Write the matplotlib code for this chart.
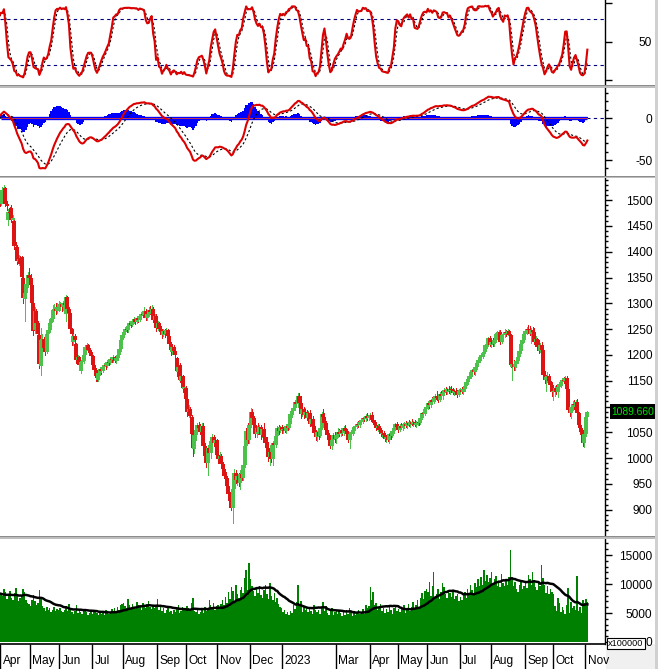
import numpy as np
import pandas as pd
import matplotlib
matplotlib.use("Agg")
import matplotlib.pyplot as plt
from matplotlib.patches import Rectangle
from matplotlib.ticker import FixedLocator, NullFormatter
from matplotlib.transforms import blended_transform_factory

# =============================================================================
# * Data: VN-Index daily sessions, Feb 2022 - Nov 2023
#   (first WARMUP sessions are only used to warm up the indicators)
# =============================================================================

WARMUP = 40

opens = [
    # Feb 2022 (warm-up)
    1495, 1500, 1505, 1500, 1505, 1500, 1480, 1490, 1502, 1505, 1505, 1505, 1495, 1500, 1490, 1477, 1490,
    # Mar 2022 (warm-up)
    1493, 1495, 1500, 1505, 1487, 1470, 1445, 1450, 1468, 1474, 1452, 1460, 1462, 1475, 1482, 1497, 1500, 1485, 1500, 1498, 1489, 1495, 1502,
    # Apr 2022
    1492, 1515, 1520, 1524, 1492, 1462, 1478, 1485, 1461, 1460, 1410, 1410, 1380, 1388, 1390, 1350, 1308, 1320, 1338, 1355,
    # May
    1350, 1336, 1300, 1248, 1286, 1262, 1238, 1178, 1228, 1230, 1214, 1206, 1240, 1248, 1262, 1270, 1288, 1290, 1286, 1292,
    # Jun
    1294, 1298, 1292, 1300, 1280, 1312, 1290, 1282, 1250, 1226, 1236, 1222, 1190, 1196, 1168, 1186, 1188, 1200, 1216, 1220, 1210, 1206,
    # Jul
    1197, 1180, 1170, 1160, 1152, 1165, 1172, 1168, 1176, 1180, 1178, 1186, 1184, 1192, 1190, 1196, 1188, 1194, 1200, 1212, 1228,
    # Aug
    1238, 1244, 1250, 1248, 1256, 1262, 1258, 1266, 1270, 1264, 1272, 1268, 1276, 1280, 1278, 1286, 1272, 1280, 1288, 1284, 1290, 1268, 1276,
    # Sep
    1252, 1262, 1250, 1244, 1238, 1246, 1240, 1248, 1236, 1222, 1206, 1216, 1208, 1194, 1166, 1180, 1150, 1160, 1134, 1136,
    # Oct
    1114, 1090, 1096, 1080, 1046, 1018, 1044, 1054, 1064, 1058, 1050, 1062, 1024, 1004, 990, 1020, 1010, 1034, 1040, 1030, 1036,
    # Nov
    1006, 998, 1004, 988, 978, 966, 962, 946, 930, 916, 904, 940, 972, 958, 966, 952, 970, 962, 986, 1024, 1058, 1036,
    # Dec
    1064, 1090, 1078, 1064, 1046, 1058, 1050, 1060, 1044, 1056, 1040, 1030, 1020, 1002, 1012, 998, 1030, 1026, 1042, 1058, 1052, 1060,
    # Jan 2023
    1054, 1056, 1052, 1062, 1058, 1066, 1086, 1092, 1098, 1108, 1104, 1120, 1106, 1086, 1096, 1084,
    # Feb
    1090, 1078, 1088, 1066, 1076, 1062, 1048, 1040, 1050, 1042, 1058, 1086, 1080, 1068, 1054, 1044, 1036, 1024, 1036, 1044,
    # Mar
    1038, 1044, 1050, 1046, 1054, 1048, 1058, 1052, 1046, 1036, 1046, 1050, 1052, 1060, 1062, 1066, 1064, 1070, 1074, 1078, 1076, 1082, 1078,
    # Apr
    1082, 1084, 1074, 1070, 1064, 1058, 1062, 1054, 1046, 1048, 1044, 1038, 1040, 1036, 1046, 1042, 1052, 1058, 1066,
    # May
    1060, 1054, 1062, 1058, 1064, 1066, 1062, 1068, 1064, 1070, 1066, 1070, 1064, 1068, 1070, 1068, 1078, 1088, 1086, 1096,
    # Jun
    1100, 1106, 1102, 1112, 1108, 1116, 1120, 1116, 1112, 1124, 1120, 1126, 1132, 1128, 1134, 1130, 1134, 1132, 1126, 1130, 1128, 1122,
    # Jul
    1130, 1132, 1128, 1134, 1140, 1148, 1154, 1160, 1166, 1170, 1166, 1176, 1184, 1190, 1196, 1200, 1204, 1206, 1220, 1222, 1232,
    # Aug
    1220, 1226, 1222, 1228, 1240, 1242, 1244, 1226, 1238, 1240, 1244, 1242, 1246, 1238, 1176, 1182, 1176, 1182, 1188, 1196, 1208, 1222, 1228,
    # Sep
    1240, 1246, 1250, 1248, 1240, 1248, 1244, 1226, 1230, 1216, 1208, 1220, 1210, 1162, 1152, 1158, 1160, 1150, 1142,
    # Oct
    1128, 1130, 1136, 1128, 1138, 1144, 1148, 1152, 1150, 1156, 1134, 1094, 1088, 1100, 1104, 1102, 1108, 1088, 1064, 1058, 1050, 1030,
    # Nov
    1046, 1080,
]

highs = [
    1506, 1510, 1509, 1511, 1508, 1503, 1496, 1507, 1510, 1512, 1509, 1508, 1505, 1504, 1494, 1495, 1499,
    1500, 1506, 1510, 1508, 1490, 1472, 1456, 1472, 1480, 1476, 1466, 1468, 1480, 1488, 1500, 1505, 1503, 1504, 1506, 1502, 1499, 1506, 1505,
    1520, 1526, 1530, 1526, 1498, 1482, 1486, 1490, 1472, 1462, 1418, 1414, 1394, 1392, 1392, 1354, 1324, 1342, 1360, 1368,
    1356, 1340, 1304, 1292, 1290, 1266, 1240, 1252, 1240, 1234, 1222, 1244, 1254, 1272, 1276, 1296, 1298, 1300, 1300, 1304,
    1302, 1300, 1304, 1302, 1316, 1314, 1292, 1284, 1252, 1244, 1240, 1223, 1200, 1198, 1190, 1192, 1204, 1220, 1224, 1222, 1214, 1209,
    1200, 1184, 1174, 1164, 1168, 1176, 1176, 1180, 1184, 1184, 1190, 1190, 1196, 1196, 1200, 1198, 1198, 1204, 1216, 1232, 1244,
    1248, 1254, 1254, 1260, 1266, 1264, 1270, 1274, 1272, 1276, 1274, 1280, 1284, 1284, 1292, 1290, 1284, 1292, 1294, 1296, 1292, 1280, 1280,
    1266, 1264, 1256, 1250, 1250, 1250, 1252, 1250, 1238, 1226, 1222, 1220, 1214, 1196, 1182, 1184, 1166, 1162, 1146, 1140,
    1118, 1102, 1100, 1084, 1058, 1050, 1060, 1068, 1070, 1066, 1068, 1068, 1030, 1010, 1026, 1024, 1040, 1046, 1044, 1040, 1038,
    1010, 1012, 1008, 992, 986, 974, 966, 950, 934, 922, 950, 978, 976, 970, 972, 976, 974, 992, 1030, 1058, 1068, 1070,
    1098, 1096, 1082, 1072, 1062, 1068, 1064, 1064, 1060, 1068, 1042, 1040, 1032, 1026, 1018, 1034, 1036, 1046, 1062, 1064, 1062, 1064,
    1060, 1062, 1066, 1068, 1070, 1090, 1096, 1102, 1112, 1118, 1126, 1126, 1120, 1100, 1100, 1098,
    1094, 1092, 1094, 1080, 1082, 1066, 1054, 1052, 1054, 1060, 1090, 1096, 1088, 1072, 1058, 1048, 1040, 1040, 1048, 1050,
    1046, 1058, 1056, 1058, 1058, 1062, 1064, 1056, 1050, 1050, 1054, 1056, 1062, 1066, 1070, 1072, 1074, 1078, 1080, 1082, 1086, 1088, 1084,
    1088, 1090, 1080, 1074, 1068, 1066, 1066, 1058, 1052, 1052, 1048, 1044, 1046, 1048, 1050, 1054, 1060, 1068, 1070,
    1064, 1066, 1068, 1068, 1070, 1072, 1070, 1074, 1072, 1076, 1072, 1074, 1072, 1074, 1076, 1080, 1090, 1094, 1098, 1104,
    1110, 1110, 1114, 1118, 1120, 1124, 1130, 1122, 1128, 1130, 1128, 1136, 1138, 1136, 1140, 1138, 1140, 1136, 1134, 1136, 1132, 1134,
    1136, 1138, 1136, 1142, 1150, 1156, 1162, 1168, 1172, 1176, 1180, 1186, 1192, 1200, 1204, 1206, 1210, 1222, 1226, 1234, 1236,
    1230, 1232, 1230, 1244, 1246, 1248, 1248, 1240, 1244, 1250, 1248, 1250, 1248, 1240, 1186, 1190, 1186, 1190, 1200, 1212, 1226, 1232, 1244,
    1250, 1254, 1258, 1256, 1252, 1254, 1252, 1236, 1232, 1228, 1224, 1226, 1212, 1168, 1162, 1166, 1164, 1158, 1148,
    1134, 1140, 1142, 1140, 1148, 1152, 1156, 1158, 1160, 1160, 1136, 1100, 1104, 1110, 1112, 1112, 1114, 1090, 1068, 1062, 1054, 1054,
    1084, 1092,
]

lows = [
    1490, 1496, 1497, 1497, 1496, 1476, 1474, 1486, 1498, 1498, 1499, 1492, 1490, 1486, 1470, 1472, 1485,
    1487, 1490, 1496, 1482, 1462, 1438, 1436, 1446, 1462, 1448, 1446, 1452, 1458, 1470, 1478, 1492, 1480, 1482, 1492, 1484, 1484, 1490, 1488,
    1490, 1510, 1515, 1488, 1480, 1452, 1468, 1458, 1456, 1406, 1396, 1376, 1374, 1370, 1348, 1300, 1266, 1314, 1332, 1340,
    1330, 1298, 1238, 1242, 1256, 1236, 1174, 1161, 1218, 1208, 1200, 1204, 1236, 1244, 1258, 1266, 1282, 1280, 1282, 1286,
    1288, 1286, 1288, 1290, 1266, 1286, 1276, 1246, 1220, 1219, 1224, 1184, 1186, 1176, 1165, 1178, 1184, 1196, 1210, 1206, 1200, 1184,
    1176, 1166, 1150, 1149, 1150, 1162, 1164, 1166, 1172, 1172, 1176, 1180, 1182, 1186, 1186, 1186, 1184, 1190, 1198, 1208, 1224,
    1234, 1240, 1244, 1244, 1252, 1254, 1256, 1262, 1260, 1262, 1264, 1266, 1272, 1274, 1276, 1268, 1268, 1276, 1280, 1280, 1264, 1262, 1246,
    1248, 1246, 1240, 1232, 1236, 1234, 1238, 1232, 1218, 1200, 1202, 1204, 1196, 1160, 1160, 1148, 1146, 1128, 1124, 1108,
    1082, 1080, 1078, 1040, 1004, 1010, 1036, 1050, 1052, 1046, 1040, 1018, 996, 982, 968, 1004, 1000, 1026, 1024, 1022, 1000,
    990, 992, 984, 972, 962, 956, 940, 924, 910, 900, 874, 936, 952, 948, 946, 940, 958, 958, 982, 1018, 1030, 1030,
    1060, 1072, 1060, 1040, 1040, 1046, 1046, 1038, 1040, 1034, 1026, 1014, 994, 986, 992, 986, 1014, 1022, 1038, 1046, 1050, 1048,
    1048, 1050, 1048, 1054, 1056, 1062, 1080, 1086, 1094, 1100, 1100, 1102, 1078, 1082, 1078, 1080,
    1074, 1072, 1062, 1062, 1058, 1044, 1036, 1034, 1038, 1040, 1056, 1076, 1064, 1050, 1040, 1030, 1020, 1018, 1032, 1032,
    1030, 1040, 1042, 1042, 1044, 1044, 1048, 1042, 1032, 1020, 1040, 1044, 1048, 1054, 1058, 1060, 1060, 1066, 1068, 1072, 1072, 1074, 1074,
    1076, 1070, 1066, 1060, 1054, 1052, 1050, 1042, 1040, 1040, 1034, 1032, 1034, 1030, 1038, 1040, 1048, 1054, 1056,
    1050, 1052, 1056, 1054, 1058, 1060, 1058, 1062, 1060, 1064, 1062, 1062, 1060, 1064, 1064, 1066, 1076, 1082, 1084, 1092,
    1096, 1098, 1100, 1104, 1106, 1110, 1112, 1108, 1110, 1116, 1114, 1122, 1124, 1124, 1126, 1124, 1128, 1124, 1122, 1124, 1118, 1120,
    1126, 1126, 1124, 1130, 1136, 1144, 1150, 1156, 1160, 1164, 1162, 1172, 1180, 1186, 1190, 1194, 1198, 1204, 1214, 1218, 1218,
    1216, 1218, 1218, 1226, 1234, 1238, 1222, 1224, 1232, 1234, 1236, 1238, 1234, 1176, 1152, 1170, 1170, 1176, 1184, 1194, 1204, 1216, 1226,
    1236, 1240, 1244, 1238, 1224, 1238, 1222, 1220, 1212, 1204, 1206, 1204, 1156, 1146, 1130, 1148, 1146, 1138, 1120,
    1112, 1120, 1124, 1118, 1134, 1138, 1142, 1146, 1146, 1130, 1090, 1082, 1078, 1094, 1096, 1098, 1084, 1058, 1046, 1046, 1024, 1022,
    1042, 1078,
]

closes = [
    1500, 1505, 1500, 1505, 1500, 1480, 1490, 1502, 1505, 1505, 1505, 1495, 1500, 1490, 1477, 1490, 1493,
    1495, 1500, 1505, 1487, 1470, 1445, 1450, 1468, 1474, 1452, 1460, 1462, 1475, 1482, 1497, 1500, 1485, 1500, 1498, 1489, 1495, 1502, 1492,
    1515, 1520, 1524, 1492, 1488, 1478, 1476, 1462, 1466, 1412, 1408, 1382, 1386, 1376, 1352, 1310, 1320, 1338, 1355, 1350,
    1336, 1300, 1246, 1286, 1262, 1240, 1182, 1228, 1230, 1214, 1206, 1240, 1248, 1262, 1270, 1288, 1290, 1286, 1292, 1294,
    1298, 1292, 1300, 1296, 1312, 1290, 1282, 1250, 1240, 1236, 1228, 1190, 1196, 1180, 1186, 1188, 1200, 1216, 1220, 1210, 1206, 1197,
    1180, 1170, 1160, 1155, 1165, 1172, 1168, 1176, 1180, 1178, 1186, 1184, 1192, 1190, 1196, 1188, 1194, 1200, 1212, 1228, 1238,
    1244, 1250, 1248, 1256, 1262, 1258, 1266, 1270, 1264, 1272, 1268, 1276, 1280, 1278, 1286, 1272, 1280, 1288, 1284, 1290, 1268, 1276, 1252,
    1262, 1250, 1244, 1238, 1246, 1240, 1248, 1236, 1222, 1210, 1216, 1208, 1200, 1168, 1176, 1152, 1160, 1136, 1138, 1114,
    1090, 1096, 1082, 1046, 1020, 1044, 1054, 1064, 1058, 1050, 1062, 1024, 1004, 990, 1020, 1010, 1034, 1040, 1030, 1036, 1006,
    998, 1004, 988, 978, 966, 962, 946, 930, 916, 904, 940, 972, 958, 966, 952, 970, 962, 986, 1024, 1052, 1036, 1064,
    1090, 1078, 1064, 1046, 1058, 1050, 1060, 1044, 1056, 1040, 1030, 1020, 1002, 1012, 998, 1030, 1026, 1042, 1058, 1052, 1060, 1054,
    1056, 1052, 1062, 1058, 1066, 1086, 1092, 1098, 1108, 1104, 1120, 1106, 1086, 1096, 1084, 1090,
    1078, 1088, 1066, 1076, 1062, 1048, 1040, 1050, 1042, 1058, 1086, 1080, 1068, 1054, 1044, 1036, 1024, 1036, 1044, 1038,
    1044, 1050, 1046, 1054, 1048, 1058, 1052, 1046, 1036, 1046, 1050, 1052, 1060, 1062, 1066, 1064, 1070, 1074, 1078, 1076, 1082, 1078, 1082,
    1084, 1074, 1070, 1064, 1058, 1062, 1054, 1046, 1048, 1044, 1038, 1040, 1036, 1046, 1042, 1052, 1058, 1066, 1060,
    1054, 1062, 1058, 1064, 1066, 1062, 1068, 1064, 1070, 1066, 1070, 1064, 1068, 1070, 1068, 1078, 1088, 1086, 1096, 1100,
    1106, 1102, 1112, 1108, 1116, 1120, 1116, 1112, 1124, 1120, 1126, 1132, 1128, 1134, 1130, 1134, 1132, 1126, 1130, 1128, 1122, 1130,
    1132, 1128, 1134, 1140, 1148, 1154, 1160, 1166, 1170, 1166, 1176, 1184, 1190, 1196, 1200, 1204, 1206, 1220, 1222, 1232, 1220,
    1226, 1222, 1228, 1240, 1242, 1244, 1226, 1238, 1240, 1244, 1242, 1246, 1238, 1180, 1182, 1176, 1182, 1188, 1196, 1208, 1222, 1228, 1240,
    1246, 1250, 1248, 1240, 1248, 1244, 1226, 1230, 1216, 1208, 1220, 1210, 1162, 1152, 1158, 1160, 1150, 1142, 1128,
    1130, 1136, 1128, 1138, 1144, 1148, 1152, 1150, 1156, 1134, 1094, 1088, 1100, 1104, 1102, 1108, 1088, 1064, 1058, 1050, 1030, 1046,
    1080, 1089.66,
]

# volume in units of 100000 shares
volumes = [
    7800, 8200, 7600, 8400, 7900, 9100, 8000, 7500, 8300, 7700, 8600, 7200, 8100, 7900, 9400, 8200, 7600,
    8500, 7900, 8300, 9000, 9600, 10200, 8800, 8400, 7600, 8900, 8100, 7800, 8600, 8200, 9100, 8700, 7400, 8300, 7900, 7200, 7700, 8100, 7500,
    8300, 7900, 9200, 8600, 7400, 8100, 8800, 7600, 7200, 8500, 9300, 8100, 7000, 7600, 7900, 9100, 8700, 7300, 6800, 6500,
    6200, 7300, 8100, 7000, 6400, 6800, 8900, 7600, 6200, 5800, 5400, 6100, 5600, 5900, 5200, 5600, 6000, 5300, 5700, 5500,
    5800, 5400, 5100, 5600, 6200, 5300, 6500, 5800, 5200, 4900, 5400, 6300, 5000, 5600, 5200, 4800, 5300, 5700, 5100, 4700, 5000, 5400,
    4800, 5200, 5600, 5000, 4600, 5300, 4900, 5100, 4700, 5500, 5200, 4800, 5000, 5700, 5300, 5900, 5200, 6100, 5600, 6400, 6600,
    6800, 6200, 5900, 7400, 6300, 5800, 6600, 6100, 5700, 6900, 6400, 6000, 5600, 6700, 6200, 5800, 6500, 7000, 6100, 5700, 6400, 5900, 6200,
    7500, 5600, 6100, 5300, 5800, 5000, 5500, 6200, 5100, 5400, 4900, 5600, 5200, 5800, 6300, 5000, 5400, 6000, 5600, 5700,
    6200, 5800, 5300, 6800, 7600, 5400, 5100, 5600, 4800, 5200, 5500, 5000, 6100, 5300, 5800, 7200, 6400, 6000, 6800, 5600, 6200,
    6300, 5900, 6600, 7200, 6400, 7800, 6800, 8600, 7400, 9400, 8800, 7000, 9800, 8200, 7600, 8900, 9500, 8400, 11000, 12400, 9000, 13600,
    10800, 9600, 8800, 7900, 9200, 8400, 9700, 8100, 7600, 8900, 9800, 8300, 7400, 10100, 8000, 7200, 8500, 6900, 7600, 6600, 6100, 5800,
    5200, 5600, 4800, 5100, 4600, 5400, 5000, 6300, 5700, 6900, 9800, 6400, 7000, 5200, 6100, 5500,
    5800, 5200, 6000, 5400, 4900, 6300, 5600, 5100, 5500, 4800, 5900, 6900, 5300, 6200, 5000, 4600, 5400, 5800, 4700, 5100,
    5300, 4800, 5600, 5000, 4500, 5200, 4700, 5500, 4900, 5800, 5100, 4400, 5300, 4700, 5000, 5600, 4800, 5200, 5700, 4900, 6400, 5800, 6200,
    9500, 7200, 8700, 6300, 6800, 5600, 6100, 6600, 5400, 5800, 5000, 5700, 5200, 6100, 5500, 4900, 5800, 6200, 5300,
    5700, 5200, 6000, 5500, 6400, 5000, 5800, 6600, 5400, 6100, 6900, 5700, 6300, 7200, 6000, 7600, 8400, 7400, 8800, 9200,
    8600, 10400, 8000, 9600, 12000, 7800, 8300, 9100, 7500, 8700, 10100, 9400, 8200, 7600, 9000, 8500, 7700, 8800, 7400, 7900, 8300, 7000,
    7800, 7300, 8100, 8700, 7600, 9200, 8400, 9800, 8900, 8100, 10200, 9400, 10800, 9600, 11200, 9900, 12400, 10600, 11600, 10300, 11000,
    12100, 9800, 10900, 11400, 9700, 10600, 9400, 11800, 10200, 9600, 10900, 9900, 11200, 15800, 10800, 9700, 10400, 9200, 8600, 9800, 10500, 9100, 9600,
    10200, 9300, 11600, 10800, 9900, 12000, 10400, 9500, 8900, 10600, 9700, 13200, 11000, 9800, 8400, 9600, 8200, 9100, 8700,
    8300, 6200, 5400, 7600, 6800, 5200, 6000, 5500, 4800, 6400, 9300, 5000, 6900, 5800, 6200, 5600, 11400, 5300, 6100, 5000, 7300, 6800,
    7400, 6900,
]

# x-axis months (Feb 2023 has no label on the original chart)
month_labels = ["Apr", "May", "Jun", "Jul", "Aug", "Sep", "Oct", "Nov", "Dec", "2023",
                "", "Mar", "Apr", "May", "Jun", "Jul", "Aug", "Sep", "Oct", "Nov"]
month_sessions = [20, 20, 22, 21, 23, 20, 21, 22, 22, 16,
                  20, 23, 19, 20, 22, 21, 23, 19, 22, 2]

# =============================================================================
# * Style constants
# =============================================================================

W, H = 658, 669          # figure size in pixels
AX_RIGHT = 605           # pixel column of the right axis line
PX_PER_BAR = 1.477
UP_COLOR = "#4CC24C"
DOWN_COLOR = "#DD1414"
FONT = "Liberation Sans"
LABEL_SIZE = 8.6

plt.rcParams["font.family"] = [FONT, "DejaVu Sans"]


def px_axes(fig, top, bottom):
    # axes spanning pixel rows top..bottom, from left edge to the value axis
    ax = fig.add_axes([0, 1 - bottom / H, AX_RIGHT / W, (bottom - top) / H])
    for side in ("left", "top", "bottom"):
        ax.spines[side].set_visible(False)
    ax.spines["right"].set_linewidth(1.0)
    ax.set_xticks([])
    ax.yaxis.tick_right()
    ax.set_xlim(-1 / PX_PER_BAR, (AX_RIGHT - 1) / PX_PER_BAR)
    return ax


def right_labels(ax, major, minor=None, labels=None):
    ax.yaxis.set_major_locator(FixedLocator(major))
    if minor is not None:
        ax.yaxis.set_minor_locator(FixedLocator(minor))
    ax.tick_params(axis="y", which="major", length=5, width=1, pad=29,
                   labelsize=LABEL_SIZE, direction="out")
    ax.tick_params(axis="y", which="minor", length=2.5, width=1, direction="out")
    ax.yaxis.set_minor_formatter(NullFormatter())
    if labels is not None:
        ax.set_yticklabels(labels)
    for lab in ax.get_yticklabels():
        lab.set_horizontalalignment("right")


# =============================================================================
# * Indicators
# =============================================================================

n = min(len(opens), len(highs), len(lows), len(closes), len(volumes))
o = np.array(opens[:n], dtype=float)
h = np.array(highs[:n], dtype=float)
l = np.array(lows[:n], dtype=float)
c = np.array(closes[:n], dtype=float)
v = np.array(volumes[:n], dtype=float)
x = np.arange(n) - WARMUP

cs = pd.Series(c)
low14 = pd.Series(l).rolling(14, min_periods=1).min()
high14 = pd.Series(h).rolling(14, min_periods=1).max()
raw_k = 100 * (cs - low14) / (high14 - low14)
stoch_k = raw_k.rolling(3, min_periods=1).mean()
stoch_d = stoch_k.rolling(3, min_periods=1).mean()

ema12 = cs.ewm(span=12, adjust=False).mean()
ema26 = cs.ewm(span=26, adjust=False).mean()
macd = ema12 - ema26
signal = macd.ewm(span=9, adjust=False).mean()
hist = macd - signal

vol_ma = pd.Series(v).rolling(20, min_periods=1).mean()

# =============================================================================
# * Figure
# =============================================================================

fig = plt.figure(figsize=(W / 100, H / 100), dpi=100)
fig.patch.set_facecolor("white")

ax_st = px_axes(fig, 0, 85)
ax_md = px_axes(fig, 88, 176)
ax_pr = px_axes(fig, 178, 536)
ax_vo = px_axes(fig, 539, 644)

# --- stochastic
ax_st.set_ylim(-6.5, 104.3)
for lvl in (80, 20):
    ax_st.axhline(lvl, color="#000080", lw=0.8, ls=(0, (3, 3)))
ax_st.plot(x, stoch_d, color="black", lw=0.8, ls=(0, (2, 2)))
ax_st.plot(x, stoch_k, color="#DD0000", lw=1.5)
right_labels(ax_st, [0, 50, 100], labels=["", "50", ""])

# --- MACD
ax_md.set_ylim(-69, 36)
ax_md.axhline(0, color="#000080", lw=0.8, ls=(0, (3, 3)))
ax_md.bar(x, hist, width=1.0, color="#0000FF", lw=0)
last = x[-1]
ax_md.plot([x[WARMUP], last], [0, 0], color="#0000FF", lw=2.4, solid_capstyle="butt")
ax_md.plot([x[WARMUP], last], [0, 0], color="#E04040", lw=0.6)
ax_md.plot(x, signal, color="black", lw=0.8, ls=(0, (2, 2)))
ax_md.plot(x, macd, color="#DD0000", lw=1.5)
right_labels(ax_md, [-50, 0], minor=[-60, -40, -30, -20, -10, 10, 20, 30], labels=["-50", "0"])

# --- price candles
ax_pr.set_ylim(849, 1543)
colors = np.where(c >= o, UP_COLOR, DOWN_COLOR)
ax_pr.vlines(x, l, h, colors=colors, lw=0.7, antialiased=False)
ax_pr.vlines(x, np.minimum(o, c), np.maximum(o, c), colors=colors, lw=1.45, antialiased=False)
price_major = np.arange(900, 1501, 50)
price_minor = [p for p in range(850, 1541, 10) if p % 50 != 0]
# the label under the last-close tag is hidden on the original
price_text = ["" if abs(p - c[-1]) < 15 else str(p) for p in price_major]
right_labels(ax_pr, price_major, minor=price_minor, labels=price_text)

# --- volume
ax_vo.set_ylim(-345, 17760)
ax_vo.bar(x, v, width=1.0, color="#008000", lw=0)
ax_vo.plot(x, vol_ma, color="black", lw=1.8)
ax_vo.spines["bottom"].set_visible(True)
ax_vo.spines["bottom"].set_linewidth(1.2)
right_labels(ax_vo, [0, 5000, 10000, 15000], minor=list(range(1000, 17001, 1000)))

# month ticks and labels under the volume panel
starts = np.cumsum([0] + month_sessions[:-1])
tick_pos = [s - 0.5 for s, lab in zip(starts, month_labels) if lab]
ax_vo.set_xticks(tick_pos)
ax_vo.set_xticklabels([])
ax_vo.tick_params(axis="x", length=18, width=1, direction="out", color="black")
tr_x = blended_transform_factory(ax_vo.transData, fig.transFigure)
for s, lab in zip(starts, month_labels):
    if lab:
        ax_vo.text(s + 1.2, 1 - 661 / H, lab, transform=tr_x, fontsize=LABEL_SIZE,
                   ha="left", va="center", clip_on=False)

# panel separators and frame pieces
for top, bot in ((85, 88), (176, 178), (536, 539)):
    fig.add_artist(Rectangle((0, 1 - bot / H), 1, (bot - top) / H,
                             transform=fig.transFigure, facecolor="#BDBDBD", edgecolor="none"))
    fig.add_artist(Rectangle((0, 1 - (top + 1) / H), 1, 1 / H,
                             transform=fig.transFigure, facecolor="#8C8C8C", edgecolor="none"))
fig.add_artist(Rectangle(((AX_RIGHT + 1) / W, 0), 1, 25 / H, transform=fig.transFigure,
                         facecolor="#F0F0F0", edgecolor="none", zorder=0))

# last close tag on the price axis
y_last = ax_pr.transData.transform((0, c[-1]))[1] / H
fig.add_artist(Rectangle((610 / W, y_last - 7.5 / H), 48 / W, 15 / H,
                         transform=fig.transFigure, facecolor="black", edgecolor="none", zorder=5))
fig.text(611 / W, y_last, "%.3f" % c[-1], color="#00E000", fontsize=7.4,
         ha="left", va="center", zorder=6)

fig.add_artist(Rectangle((655 / W, 0), 3 / W, 1, transform=fig.transFigure,
                         facecolor="#D0D0D0", edgecolor="none", zorder=7))

fig.text(626 / W, 1 - 643.5 / H, "x100000", fontsize=6.6, ha="center", va="center",
         bbox=dict(boxstyle="square,pad=0.15", facecolor="white", edgecolor="black", lw=0.8),
         zorder=10)

fig.savefig("out.png", dpi=100)
